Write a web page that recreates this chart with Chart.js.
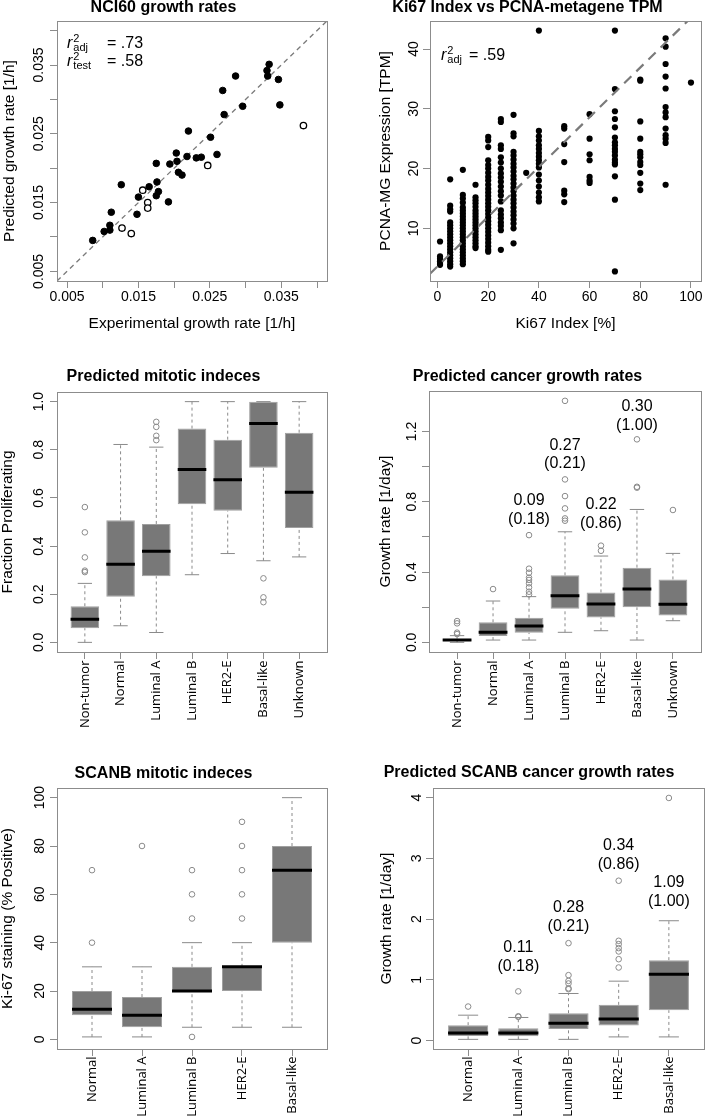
<!DOCTYPE html>
<html><head><meta charset="utf-8">
<script src="https://cdn.jsdelivr.net/npm/chart.js@4.4.1/dist/chart.umd.min.js"></script>
<style>
html,body{margin:0;padding:0;background:#fff;overflow:hidden;width:709px;height:1118px;position:relative;}
canvas{position:absolute;}
</style></head><body>
<script>
// ================= DATA =================
// Panel 1: NCI60 growth rates
const nciExpFilled  = [0.0086,0.0102,0.0110,0.0110,0.0112,0.0126,0.0148,0.0150,0.0165,0.0175,0.0178,0.0176,0.0175,0.0192,0.0194,0.0203,0.0204,0.0206,0.0211,0.0218,0.0220,0.0231,0.0238,0.0251,0.0260,0.0268,0.0270,0.0286,0.0296,0.0330,0.0333,0.0331,0.0346,0.0348];
const nciPredFilled = [0.0095,0.0108,0.0110,0.0117,0.0136,0.0176,0.0133,0.0158,0.0173,0.0160,0.0166,0.0180,0.0207,0.0151,0.0206,0.0222,0.0210,0.0194,0.0190,0.0217,0.0254,0.0215,0.0216,0.0245,0.0220,0.0313,0.0278,0.0334,0.0290,0.0342,0.0351,0.0334,0.0329,0.0292];
const nciExpOpen  = [0.0127,0.0140,0.0156,0.0163,0.0163,0.0247,0.0381];
const nciPredOpen = [0.0113,0.0105,0.0168,0.0150,0.0142,0.0204,0.0262];
const nciLim = [0.0036, 0.0414];
const nciTicks = [0.005,0.010,0.015,0.020,0.025,0.030,0.035,0.040];
const nciTickLabels = ['0.005','','0.015','','0.025','','0.035',''];
const nciR2Subs = ['adj','test'];
const nciR2Vals = ['.73','.58'];

// Panel 2: Ki67 vs PCNA-metagene
const ki67Levels = [1,5,10,15,20,25,30,35,40,50,60,70,80,90,100];
const pcnaByLevel = [
  [7.8,5.3,4.9,4.5,4.2,3.9],
  [18.2,13.8,13.2,12.8,11.0,10.5,10.0,9.5,9.0,8.5,8.0,7.5,7.0,6.5,6.0,5.5,5.0,4.5,4.0,3.6],
  [19.8,15.6,15.0,14.3,13.5,13.0,12.5,12.0,11.5,11.0,10.5,10.0,9.5,9.0,8.5,8.0,7.5,7.0,6.5,6.0,5.5,5.0,4.5,4.0],
  [17.3,15.2,14.7,14.2,13.6,13.0,12.5,12.0,11.5,11.0,10.5,10.0,9.5,9.0,8.5,8.0,7.5,7.0,6.7],
  [25.3,24.7,23.6,21.4,20.6,20.0,19.3,18.6,18.0,17.3,16.6,16.0,15.4,14.8,14.2,13.6,13.0,12.4,11.8,11.2,10.6,10.0,9.4,8.8,8.2,7.6,7.0,6.4,6.1],
  [28.3,27.8,23.9,23.3,21.9,21.0,20.0,19.2,18.5,17.8,17.0,16.2,15.5,14.5,13.0,12.3,11.7,11.0,10.4,9.7,6.4],
  [29.0,25.9,25.4,22.8,22.2,21.5,20.8,20.2,19.5,18.8,18.2,17.5,16.8,16.2,15.5,14.8,14.2,13.5,12.8,12.2,11.5,10.8,10.0,7.5],
  [19.3],
  [43.1,26.3,25.4,24.7,23.9,23.3,22.6,22.0,21.4,20.8,20.2,19.0,18.0,17.0,16.0,15.2,14.5],
  [27.1,26.7,24.1,21.1,16.3,15.7,14.4],
  [29.1,25.0,22.4,21.4,18.6,18.0,17.6],
  [43.1,33.3,29.6,28.3,26.9,25.2,24.4,23.9,23.3,22.8,22.2,21.5,21.0,20.7,18.7,14.8,2.8],
  [34.9,34.7,27.9,25.0,22.8,22.4,21.9,21.1,20.6,19.3,17.5,16.4],
  [41.8,40.4,37.5,35.4,33.4,30.3,29.4,28.6,26.7,25.6,25.0,24.3,17.3],
  [34.4]
];
const ki67Lim = [-2.96, 103.96];
const pcnaLim = [1.19, 44.7];
const ki67Ticks = [0,20,40,60,80,100];
const ki67TickLabels = ['0','20','40','60','80','100'];
const pcnaTicks = [10,20,30,40];
const pcnaTickLabels = ['10','20','30','40'];
const pcnaIntercept = 3.64;
const pcnaSlope = 0.416;
const pcnaR2Subs = ['adj'];
const pcnaR2Vals = ['.59'];

// Panel 3: Predicted mitotic indeces
const subtypes7 = ['Non-tumor','Normal','Luminal A','Luminal B','HER2-E','Basal-like','Unknown'];
const mitLow  = [0.000,0.069,0.041,0.281,0.369,0.339,0.355];
const mitQ1   = [0.059,0.189,0.275,0.574,0.547,0.725,0.475];
const mitMed  = [0.096,0.324,0.379,0.718,0.676,0.909,0.624];
const mitQ3   = [0.150,0.507,0.492,0.888,0.842,1.000,0.871];
const mitHigh = [0.245,0.822,0.811,1.000,1.000,1.000,1.000];
const mitOut  = [[0.292,0.298,0.353,0.457,0.562],[],[0.840,0.858,0.895,0.916],[],[],[0.266,0.187,0.167],[]];
const mitLim = [-0.04, 1.04];
const mitTicks = [0,0.2,0.4,0.6,0.8,1.0];
const mitTickLabels = ['0.0','0.2','0.4','0.6','0.8','1.0'];

// Panel 4: Predicted cancer growth rates
const grLow  = [0.000,0.013,0.013,0.057,0.066,0.013,0.123];
const grQ1   = [0.008,0.036,0.055,0.191,0.142,0.199,0.152];
const grMed  = [0.013,0.057,0.093,0.265,0.218,0.303,0.216];
const grQ3   = [0.021,0.114,0.140,0.381,0.284,0.425,0.358];
const grHigh = [0.038,0.235,0.260,0.629,0.491,0.756,0.506];
const grOut  = [[0.047,0.055,0.108,0.121],[0.303],[0.273,0.288,0.313,0.336,0.355,0.368,0.396,0.419,0.610],[0.692,0.705,0.762,0.832,0.927,1.374],[0.521,0.550],[0.880,0.885,1.155],[0.753]];
const grLim = [-0.055, 1.43];
const grTicks = [0,0.2,0.4,0.6,0.8,1.0,1.2];
const grTickLabels = ['0.0','','0.4','','0.8','','1.2'];
const grAnnCat = [3,4,5,6];
const grAnnY = [0.806,1.122,0.781,1.340];
const grAnnMedian = ['0.09','0.27','0.22','0.30'];
const grAnnP = ['(0.18)','(0.21)','(0.86)','(1.00)'];

// Panel 5: SCANB mitotic indeces
const subtypes5 = ['Normal','Luminal A','Luminal B','HER2-E','Basal-like'];
const skLow  = [1,1,5,5,5];
const skQ1   = [10,5,20,20,40];
const skMed  = [12.5,10,20,30,70];
const skQ3   = [20,17.5,30,30,80];
const skHigh = [30,30,40,40,100];
const skOut  = [[40,70],[80],[50,60,70,1],[50,60,70,80,90],[]];
const skLim = [-4, 104];
const skTicks = [0,20,40,60,80,100];
const skTickLabels = ['0','20','40','60','80','100'];

// Panel 6: Predicted SCANB cancer growth rates
const sgLow  = [0.020,0.020,0.020,0.060,0.060];
const sgQ1   = [0.077,0.070,0.190,0.247,0.500];
const sgMed  = [0.126,0.126,0.286,0.357,1.093];
const sgQ3   = [0.253,0.203,0.450,0.588,1.324];
const sgHigh = [0.418,0.380,0.775,0.978,1.973];
const sgOut  = [[0.56],[0.39,0.40,0.81],[0.846,0.86,0.94,0.983,1.077,1.604],[1.203,1.34,1.467,1.522,1.588,1.643,2.632],[3.995]];
const sgLim = [-0.139, 4.159];
const sgTicks = [0,1,2,3,4];
const sgTickLabels = ['0','1','2','3','4'];
const sgAnnCat = [2,3,4,5];
const sgAnnY = [1.533,2.190,3.210,2.600];
const sgAnnMedian = ['0.11','0.28','0.34','1.09'];
const sgAnnP = ['(0.18)','(0.21)','(0.86)','(1.00)'];

// ================= STYLE / HELPERS =================
const FAM = "'Liberation Sans', Arial, sans-serif";
const CATFAM = "'Open Sans', 'DejaVu Sans', sans-serif";
const AX = '#8c8c8c';
const TL = 7;
Chart.defaults.font.family = FAM;
Chart.defaults.color = '#000';
Chart.defaults.animation = false;
Chart.defaults.events = [];
Chart.defaults.plugins.legend.display = false;
Chart.defaults.plugins.tooltip.enabled = false;

const mctx = document.createElement('canvas').getContext('2d');
function widest(labels, size, fam) {
  mctx.font = size + 'px ' + fam;
  return Math.max(0, ...labels.map(l => mctx.measureText(l).width));
}
function makeCanvas(p) {
  const cv = document.createElement('canvas');
  cv.width = p.w; cv.height = p.h;
  cv.style.left = p.left + 'px'; cv.style.top = p.top + 'px';
  cv.style.width = p.w + 'px'; cv.style.height = p.h + 'px';
  document.body.appendChild(cv);
  return cv;
}
const gridOpt = {display: true, drawOnChartArea: false, drawTicks: true, tickLength: TL, color: AX, lineWidth: 1, offset: false};

function titleOpt(p, text) {
  return {display: true, text, color: '#000', font: {size: 16, weight: 'bold', lineHeight: 1},
    padding: {top: p.titleCY - p.top - 8, bottom: p.area.t - p.titleCY - 8}};
}
function yScale(p, lim, ticks, labels, title) {
  const w = widest(labels, 14, FAM);
  return {
    type: 'linear', position: 'left', min: lim[0], max: lim[1], offset: false,
    afterBuildTicks: s => { s.ticks = ticks.map(v => ({value: v})); },
    afterFit: s => { s.width = p.area.l - p.left; },
    ticks: {autoSkip: false, minRotation: 90, maxRotation: 90, crossAlign: 'center',
      padding: p.yLabOff - TL - w / 2, font: {size: 14}, color: '#000',
      callback: (v, i) => labels[i]},
    grid: gridOpt,
    border: {display: false},
    title: {display: true, text: title, color: '#000', font: {size: 15.5, lineHeight: 1},
      padding: {top: p.yTitleX - p.left - 7.75, bottom: 0}}
  };
}
function xScaleNum(p, lim, ticks, labels, title) {
  return {
    type: 'linear', position: 'bottom', min: lim[0], max: lim[1], offset: false,
    afterBuildTicks: s => { s.ticks = ticks.map(v => ({value: v})); },
    afterFit: s => { s.height = p.top + p.h - p.area.b; },
    ticks: {autoSkip: false, minRotation: 0, maxRotation: 0,
      padding: p.xLabCY - p.area.b - TL - 8.4, font: {size: 14}, color: '#000',
      callback: (v, i) => labels[i]},
    grid: gridOpt,
    border: {display: false},
    title: {display: true, text: title, color: '#000', font: {size: 15.5, lineHeight: 1},
      padding: {top: 0, bottom: p.top + p.h - p.xTitleY - 7.75}}
  };
}
function xScaleCat(p, cats) {
  const n = cats.length, ext = 0.04 * n;
  return {
    type: 'linear', position: 'bottom', min: 0.5 - ext, max: n + 0.5 + ext, offset: false,
    afterBuildTicks: s => { s.ticks = cats.map((c, i) => ({value: i + 1})); },
    afterFit: s => { s.height = p.top + p.h - p.area.b; },
    ticks: {autoSkip: false, minRotation: 90, maxRotation: 90, padding: p.catPad,
      font: {size: 13, family: CATFAM}, color: '#000', callback: (v, i) => cats[i]},
    grid: gridOpt,
    border: {display: false}
  };
}
function framePlugin(extra) {
  return {id: 'frameText', afterDraw(ch) {
    const a = ch.chartArea, c = ch.ctx;
    c.save();
    c.strokeStyle = AX; c.lineWidth = 1;
    c.strokeRect(Math.floor(a.left) + 0.5, Math.floor(a.top) + 0.5,
      Math.round(a.right - a.left), Math.round(a.bottom - a.top));
    if (extra) extra(ch, c);
    c.restore();
  }};
}
function drawR2(ch, c, subs, vals, dx, dy0, lineGap, eqDx) {
  const a = ch.chartArea;
  c.fillStyle = '#000'; c.textAlign = 'left'; c.textBaseline = 'alphabetic';
  subs.forEach((sub, i) => {
    const x = a.left + dx, y = a.top + dy0 + i * lineGap;
    c.font = 'italic 16px ' + FAM; c.fillText('r', x, y);
    const w = c.measureText('r').width;
    c.font = '11px ' + FAM;
    c.fillText('2', x + w + 1, y - 6);
    c.fillText(sub, x + w + 1, y + 3);
    c.font = '16px ' + FAM;
    c.fillText('= ' + vals[i], a.left + eqDx, y);
  });
}
function drawBoxLabels(ch, c, cats, ys, l1, l2) {
  const xs = ch.scales.x, yS = ch.scales.y;
  c.font = '16px ' + FAM; c.textAlign = 'center'; c.textBaseline = 'middle'; c.fillStyle = '#000';
  cats.forEach((k, i) => {
    const px = xs.getPixelForValue(k), py = yS.getPixelForValue(ys[i]);
    c.fillText(l1[i], px, py);
    c.fillText(l2[i], px, py + 18.7);
  });
}

function boxChart(p, cats, low, q1, med, q3, high, outs, lim, yTicks, yLabels, yTitle, title, extra) {
  const boxes = [], medians = [], whisk = [], caps = [], outPts = [];
  cats.forEach((c, i) => {
    const x = i + 1;
    boxes.push({x, y: [q1[i], q3[i]]});
    medians.push({x: x - 0.4, y: med[i]}, {x: x + 0.4, y: med[i]}, {x: x + 0.4, y: null});
    whisk.push({x, y: q3[i]}, {x, y: high[i]}, {x, y: null}, {x, y: low[i]}, {x, y: q1[i]}, {x, y: null});
    caps.push({x: x - 0.2, y: high[i]}, {x: x + 0.2, y: high[i]}, {x: x + 0.2, y: null},
              {x: x - 0.2, y: low[i]}, {x: x + 0.2, y: low[i]}, {x: x + 0.2, y: null});
    outs[i].forEach(v => outPts.push({x, y: v}));
  });
  new Chart(makeCanvas(p), {
    type: 'bar',
    data: {datasets: [
      {type: 'scatter', data: outPts, pointRadius: 2.8, pointBorderWidth: 1, pointBorderColor: '#8a8a8a', pointBackgroundColor: 'rgba(0,0,0,0)', order: 1},
      {type: 'line', data: medians, borderColor: '#000', borderWidth: 3, pointRadius: 0, borderCapStyle: 'butt', order: 2},
      {type: 'bar', data: boxes, backgroundColor: '#787878', borderColor: '#a0a0a0', borderWidth: 1, borderSkipped: false, categoryPercentage: 0.8, barPercentage: 1, order: 3},
      {type: 'line', data: caps, borderColor: '#8a8a8a', borderWidth: 1, pointRadius: 0, order: 4},
      {type: 'line', data: whisk, borderColor: '#8a8a8a', borderWidth: 1, borderDash: [3, 3], pointRadius: 0, order: 5}
    ]},
    options: {
      responsive: false,
      layout: {padding: {left: 0, top: 0, bottom: 0, right: p.left + p.w - p.area.r}},
      plugins: {title: titleOpt(p, title)},
      scales: {x: xScaleCat(p, cats), y: yScale(p, lim, yTicks, yLabels, yTitle)}
    },
    plugins: [framePlugin(extra)]
  });
}

// ================= PANELS =================
const P1 = {left: 0, top: 0, w: 384, h: 350, area: {l: 57, r: 327, t: 21, b: 281}, titleCY: 8, yLabOff: 18, yTitleX: 10, xLabCY: 297.5, xTitleY: 324};
const P2 = {left: 354, top: 0, w: 423, h: 350, area: {l: 430, r: 701, t: 21, b: 281}, titleCY: 8, yLabOff: 16, yTitleX: 386, xLabCY: 297.5, xTitleY: 324};
const P3 = {left: 0, top: 350, w: 384, h: 390, area: {l: 57, r: 327, t: 392, b: 652}, titleCY: 377, yLabOff: 18, yTitleX: 8, catPad: 1.5};
const P4 = {left: 354, top: 350, w: 422, h: 390, area: {l: 429, r: 701, t: 391, b: 652}, titleCY: 377, yLabOff: 17, yTitleX: 386, catPad: 1.5};
const P5 = {left: 0, top: 740, w: 384, h: 378, area: {l: 57, r: 327, t: 788, b: 1049}, titleCY: 774, yLabOff: 17, yTitleX: 8, catPad: 0.5};
const P6 = {left: 354, top: 740, w: 429, h: 378, area: {l: 433, r: 704, t: 788, b: 1049}, titleCY: 772.5, yLabOff: 16, yTitleX: 387, catPad: 0.5};

// Panel 1
new Chart(makeCanvas(P1), {
  type: 'scatter',
  data: {datasets: [
    {data: nciExpFilled.map((x, i) => ({x, y: nciPredFilled[i]})), pointRadius: 3.3, pointBackgroundColor: '#000', pointBorderColor: '#000', pointBorderWidth: 1, order: 1},
    {data: nciExpOpen.map((x, i) => ({x, y: nciPredOpen[i]})), pointRadius: 3.2, pointBackgroundColor: '#fff', pointBorderColor: '#000', pointBorderWidth: 1.3, order: 2},
    {type: 'line', data: [{x: nciLim[0], y: nciLim[0]}, {x: nciLim[1], y: nciLim[1]}], borderColor: '#7a7a7a', borderWidth: 1.3, borderDash: [5, 4], pointRadius: 0, order: 3}
  ]},
  options: {
    responsive: false,
    layout: {padding: {left: 0, top: 0, bottom: 0, right: P1.left + P1.w - P1.area.r}},
    plugins: {title: titleOpt(P1, 'NCI60 growth rates')},
    scales: {
      x: xScaleNum(P1, nciLim, nciTicks, nciTickLabels, 'Experimental growth rate [1/h]'),
      y: yScale(P1, nciLim, nciTicks, nciTickLabels, 'Predicted growth rate [1/h]')
    }
  },
  plugins: [framePlugin((ch, c) => drawR2(ch, c, nciR2Subs, nciR2Vals, 10, 27.3, 17.4, 50))]
});

// Panel 2
const pcnaPts = [];
ki67Levels.forEach((k, i) => pcnaByLevel[i].forEach(v => pcnaPts.push({x: k, y: v})));
new Chart(makeCanvas(P2), {
  type: 'scatter',
  data: {datasets: [
    {type: 'line', data: ki67Lim.map(x => ({x, y: pcnaIntercept + pcnaSlope * x})), borderColor: '#7a7a7a', borderWidth: 2.2, borderDash: [10, 7], pointRadius: 0, order: 1},
    {data: pcnaPts, pointRadius: 3.1, pointBackgroundColor: '#000', pointBorderColor: '#000', pointBorderWidth: 0, order: 2}
  ]},
  options: {
    responsive: false,
    layout: {padding: {left: 0, top: 0, bottom: 0, right: P2.left + P2.w - P2.area.r}},
    plugins: {title: titleOpt(P2, 'Ki67 Index vs PCNA-metagene TPM')},
    scales: {
      x: xScaleNum(P2, ki67Lim, ki67Ticks, ki67TickLabels, 'Ki67 Index [%]'),
      y: yScale(P2, pcnaLim, pcnaTicks, pcnaTickLabels, 'PCNA-MG Expression [TPM]')
    }
  },
  plugins: [framePlugin((ch, c) => drawR2(ch, c, pcnaR2Subs, pcnaR2Vals, 11, 39, 17.4, 39))]
});

// Panels 3-6
boxChart(P3, subtypes7, mitLow, mitQ1, mitMed, mitQ3, mitHigh, mitOut, mitLim, mitTicks, mitTickLabels,
  'Fraction Proliferating', 'Predicted mitotic indeces', null);
boxChart(P4, subtypes7, grLow, grQ1, grMed, grQ3, grHigh, grOut, grLim, grTicks, grTickLabels,
  'Growth rate [1/day]', 'Predicted cancer growth rates',
  (ch, c) => drawBoxLabels(ch, c, grAnnCat, grAnnY, grAnnMedian, grAnnP));
boxChart(P5, subtypes5, skLow, skQ1, skMed, skQ3, skHigh, skOut, skLim, skTicks, skTickLabels,
  'Ki-67 staining (% Positive)', 'SCANB mitotic indeces', null);
boxChart(P6, subtypes5, sgLow, sgQ1, sgMed, sgQ3, sgHigh, sgOut, sgLim, sgTicks, sgTickLabels,
  'Growth rate [1/day]', 'Predicted SCANB cancer growth rates',
  (ch, c) => drawBoxLabels(ch, c, sgAnnCat, sgAnnY, sgAnnMedian, sgAnnP));
</script>
</body></html>
